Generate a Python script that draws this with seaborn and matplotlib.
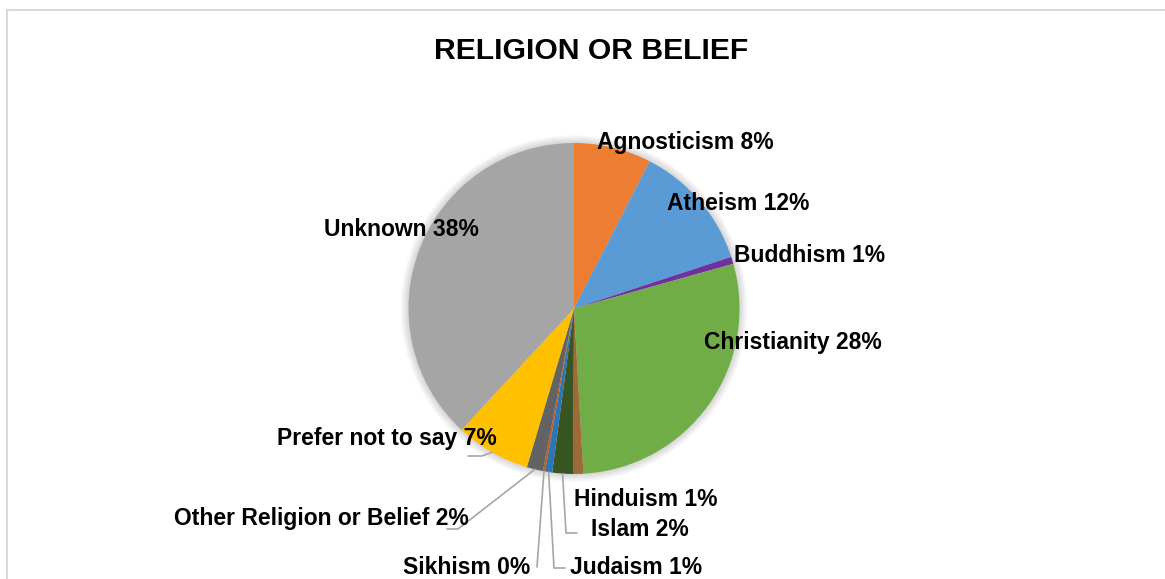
import numpy as np
import matplotlib
matplotlib.use("Agg")
import matplotlib.pyplot as plt
from matplotlib.patches import Circle
import seaborn as sns

# Share of respondents by religion or belief (percent)
categories = [
    "Agnosticism", "Atheism", "Buddhism", "Christianity", "Hinduism",
    "Islam", "Judaism", "Sikhism", "Other Religion or Belief",
    "Prefer not to say", "Unknown",
]
shares = [7.55, 12.4, 0.7, 28.45, 1.0, 2.0, 0.7, 0.2, 1.6, 7.3, 38.1]
slice_colors = [
    "#ED7D31", "#5B9BD5", "#7030A0", "#70AD47", "#9E6A38",
    "#375623", "#2E75B6", "#C55A11", "#636363", "#FFC000", "#A5A5A5",
]

sns.set_theme(style="white")
plt.rcParams["font.family"] = ["Liberation Sans", "DejaVu Sans"]

W, H = 1165, 579
fig = plt.figure(figsize=(W / 100, H / 100), dpi=100)
ax = fig.add_axes([0, 0, 1, 1])


def Y(y):
    """Convert a top-down pixel row into the axes' bottom-up data y."""
    return H - y


cx, cy, r = 574, Y(308.5), 165.5

# soft shadow halo behind the pie
for k in range(1, 9):
    ax.add_patch(Circle((cx, cy), r + k, color="black", alpha=0.02,
                        lw=0, zorder=0))

palette = sns.color_palette(slice_colors)
wedges, _ = ax.pie(shares, colors=palette, startangle=90, counterclock=False,
                   center=(cx, cy), radius=r,
                   wedgeprops=dict(linewidth=0, zorder=2))

ax.set_xlim(0, W)
ax.set_ylim(0, H)
ax.set_aspect("equal")
ax.axis("off")

# chart frame (top and left edges)
frame_c = "#D9D9D9"
ax.plot([7, 7], [Y(10), Y(H)], color=frame_c, lw=1.5, zorder=1)
ax.plot([7, W], [Y(10), Y(10)], color=frame_c, lw=1.5, zorder=1)

ax.text(591, Y(51), "RELIGION OR BELIEF", ha="center", va="center",
        fontsize=21.7, fontweight="bold", color="black")

# label centres in pixel rows/columns
label_pos = {
    "Agnosticism": (685, 143),
    "Atheism": (738, 204),
    "Buddhism": (810, 256),
    "Christianity": (793, 342),
    "Hinduism": (646, 500),
    "Islam": (640, 530),
    "Judaism": (636, 568),
    "Sikhism": (467, 567),
    "Other Religion or Belief": (321, 519),
    "Prefer not to say": (387, 439),
    "Unknown": (401, 229),
}

# leader line routes: elbow and end point next to the label
leaders = {
    "Prefer not to say": [(482, 456), (468, 456)],
    "Other Religion or Belief": [(458, 529), (447, 529)],
    "Sikhism": [(537, 567)],
    "Judaism": [(554, 568), (565, 568)],
    "Islam": [(566, 533), (577, 533)],
}

for cat, share, w in zip(categories, shares, wedges):
    x, y = label_pos[cat]
    ax.text(x, Y(y), f"{cat} {share:.0f}%", ha="center", va="center",
            fontsize=16.5, fontweight="bold", color="black", zorder=4)
    if cat in leaders:
        mid = np.deg2rad((w.theta1 + w.theta2) / 2)
        sx, sy = cx + r * np.cos(mid), cy + r * np.sin(mid)
        xs = [sx] + [p[0] for p in leaders[cat]]
        ys = [sy] + [Y(p[1]) for p in leaders[cat]]
        ax.plot(xs, ys, color="#A6A6A6", lw=1.2, zorder=3)

fig.savefig("out.png", dpi=100, facecolor="white")
